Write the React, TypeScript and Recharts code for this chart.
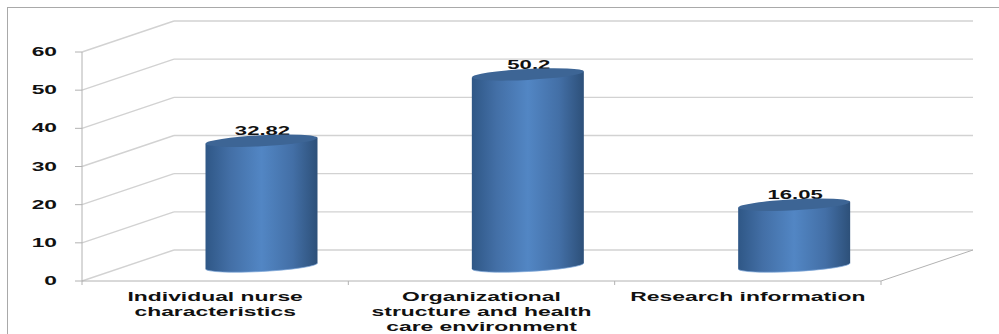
import React from 'react';
import { Bar, CartesianGrid, ComposedChart, XAxis, YAxis } from 'recharts';

const categories = [
  'Individual nurse characteristics',
  'Organizational structure and health care environment',
  'Research information',
];
const values = [32.82, 50.2, 16.05];
const yTicks = [0, 10, 20, 30, 40, 50, 60];

const rows = categories.map((name, i) => ({ name, value: values[i] }));

const WIDTH = 999;
const HEIGHT = 334;
const PLOT_LEFT = 82;
const PLOT_RIGHT = 881;
const PLOT_TOP = 52;
const PLOT_BOTTOM = 281;
const BAND = (PLOT_RIGHT - PLOT_LEFT) / categories.length;

// depth of the floor and walls of the pseudo-3D box
const DEPTH_X = 92;
const DEPTH_Y = 31;
// cylinders stand half way back
const BAR_SHIFT_X = 46.5;
const BAR_SHIFT_Y = -15;

const FONT = '"Liberation Sans", Arial, sans-serif';
const AXIS_GREY = '#b2b2b2';
const GRID_GREY = '#d2d2d2';

function wrapLabel(label: string, maxChars = 22) {
  const lines: string[] = [];
  let current = '';
  label.split(' ').forEach((word) => {
    const next = current ? `${current} ${word}` : word;
    if (next.length > maxChars && current) {
      lines.push(current);
      current = word;
    } else {
      current = next;
    }
  });
  lines.push(current);
  return lines;
}

// Wide, squat lettering
const WideText = ({ x, y, anchor = 'middle', size = 13, stretch = 1.76, children }: any) => (
  <text
    transform={`translate(${x} ${y}) scale(${stretch} 1)`}
    textAnchor={anchor}
    fontFamily={FONT}
    fontWeight={700}
    fontSize={size}
    fill="#111111"
  >
    {children}
  </text>
);

const WallLine = ({ x1, y1, x2 }: any) => {
  const isFloor = y1 >= PLOT_BOTTOM - 0.5;
  const backY = y1 - DEPTH_Y;
  return (
    <g fill="none" stroke={GRID_GREY} strokeWidth={1.4}>
      <line x1={x1} y1={y1} x2={x1 + DEPTH_X} y2={backY} />
      <line x1={x1 + DEPTH_X} y1={backY} x2={x2 + DEPTH_X} y2={backY} />
      {isFloor && <line x1={x2} y1={y1} x2={x2 + DEPTH_X} y2={backY} stroke={AXIS_GREY} strokeWidth={1} />}
    </g>
  );
};

const ValueTick = ({ x, y, payload }: any) => (
  <g>
    <line x1={x + 1} y1={y} x2={PLOT_LEFT} y2={y} stroke={AXIS_GREY} />
    <WideText x={57} y={y + 4} anchor="end" size={12} stretch={1.9}>
      {payload.value}
    </WideText>
  </g>
);

const CategoryTick = ({ x, y, payload, index }: any) => (
  <g>
    <line x1={x - BAND / 2} y1={y - 8} x2={x - BAND / 2} y2={y - 4} stroke={AXIS_GREY} />
    {index === categories.length - 1 && (
      <line x1={x + BAND / 2} y1={y - 8} x2={x + BAND / 2} y2={y - 4} stroke={AXIS_GREY} />
    )}
    {wrapLabel(payload.value).map((line, i) => (
      <WideText key={line} x={x} y={y + 12 + i * 15}>
        {line}
      </WideText>
    ))}
  </g>
);

// Bar rectangle redrawn as a tilted cylinder, value text sits behind its lid
const Cylinder = ({ x, y, width, height, value }: any) => {
  const left = x + BAR_SHIFT_X;
  const right = left + width;
  const cx = left + width / 2;
  const top = y + BAR_SHIFT_Y;
  const bottom = top + height;
  const tilt = 3;
  const ry = 5.5;
  const rx = width / 2;
  return (
    <g>
      <WideText x={cx + 1} y={top - 5.5} size={13} stretch={1.7}>
        {value}
      </WideText>
      <path
        d={`M${left} ${top + tilt} L${right} ${top - tilt} L${right} ${bottom - tilt}
            A${rx} ${ry} -3 0 1 ${left} ${bottom + tilt} Z`}
        fill="url(#cylinderSide)"
      />
      <path
        d={`M${left} ${bottom + tilt} A${rx} ${ry} -3 0 0 ${right} ${bottom - tilt}`}
        fill="none"
        stroke="#7fa8da"
        strokeOpacity={0.7}
        strokeWidth={1}
      />
      <ellipse cx={cx} cy={top} rx={rx} ry={ry} transform={`rotate(-3 ${cx} ${top})`} fill="#3d6595" />
    </g>
  );
};

export default function App() {
  return (
    <div style={{ position: 'absolute', left: 0, top: 0, width: WIDTH, height: HEIGHT, background: '#fff', overflow: 'hidden' }}>
      <div style={{ position: 'absolute', left: 7, top: 7, right: 0, bottom: 0, borderLeft: '1px solid #a9a9a9', borderTop: '1px solid #a9a9a9' }} />
      <div style={{ position: 'absolute', left: 0, top: 0 }}>
        <ComposedChart
          width={WIDTH}
          height={HEIGHT}
          data={rows}
          margin={{ top: PLOT_TOP, right: WIDTH - PLOT_RIGHT, bottom: 0, left: 0 }}
        >
          <defs>
            <linearGradient id="cylinderSide" x1="0" y1="0" x2="1" y2="0">
              <stop offset="0" stopColor="#2f5786" />
              <stop offset="0.22" stopColor="#436fa6" />
              <stop offset="0.5" stopColor="#5286c4" />
              <stop offset="0.78" stopColor="#436fa6" />
              <stop offset="1" stopColor="#2d5079" />
            </linearGradient>
          </defs>
          <CartesianGrid vertical={false} horizontal={(props: any) => <WallLine key={props.y1} {...props} />} />
          <XAxis
            dataKey="name"
            height={HEIGHT - PLOT_BOTTOM}
            interval={0}
            axisLine={{ stroke: AXIS_GREY }}
            tickLine={false}
            tick={<CategoryTick />}
          />
          <YAxis
            width={PLOT_LEFT}
            domain={[0, 60]}
            ticks={yTicks}
            axisLine={{ stroke: AXIS_GREY }}
            tickLine={false}
            tick={<ValueTick />}
          />
          <Bar dataKey="value" barSize={112} isAnimationActive={false} shape={<Cylinder />} />
        </ComposedChart>
      </div>
    </div>
  );
}
